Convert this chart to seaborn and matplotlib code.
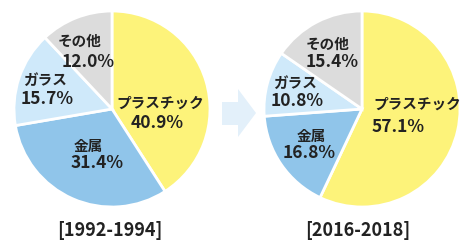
import matplotlib.pyplot as plt
import seaborn as sns
from matplotlib.patches import Polygon

# データ
categories = ['プラスチック', '金属', 'ガラス', 'その他']
share_1992 = [40.9, 31.4, 15.7, 12.0]
share_2016 = [57.1, 16.8, 10.8, 15.4]
period_labels = ['[1992-1994]', '[2016-2018]']

colors = ['#FDF37A', '#90C5EA', '#CFE9FA', '#DCDCDC']

# ラベル位置（半径=1 の座標）
name_pos_1992 = [(0.49, 0.06), (-0.245, -0.38), (-0.68, 0.30), (-0.33, 0.70)]
pct_pos_1992 = [(0.46, -0.14), (-0.15, -0.55), (-0.66, 0.10), (-0.245, 0.48)]
name_pos_2016 = [(0.56, 0.05), (-0.52, -0.28), (-0.68, 0.27), (-0.35, 0.67)]
pct_pos_2016 = [(0.37, -0.18), (-0.54, -0.45), (-0.66, 0.08), (-0.30, 0.48)]

sns.set_theme(style='white')
plt.rcParams['font.family'] = ['Noto Sans CJK JP', 'DejaVu Sans']

W, H = 474, 250
fig = plt.figure(figsize=(W / 100, H / 100), dpi=100)
fig.patch.set_facecolor('white')

# 矢印（背景）
bg = fig.add_axes([0, 0, 1, 1])
bg.set_xlim(0, W)
bg.set_ylim(H, 0)
bg.axis('off')
arrow = [(222, 102), (238, 102), (238, 89), (256, 113), (238, 137), (238, 125), (222, 125)]
bg.add_patch(Polygon(arrow, closed=True, facecolor='#E3F0FA', edgecolor='none'))


def draw_pie(cx, cy, r, values, name_pos, pct_pos, period, label_x):
    ax = fig.add_axes([(cx - r) / W, (H - cy - r) / H, 2 * r / W, 2 * r / H])
    ax.pie(values, colors=colors, startangle=90, counterclock=False,
           wedgeprops=dict(edgecolor='white', linewidth=2))
    ax.set_xlim(-1, 1)
    ax.set_ylim(-1, 1)
    ax.set_aspect('equal')
    for name, v, (nx, ny), (px, py) in zip(categories, values, name_pos, pct_pos):
        ax.text(nx, ny, name, ha='center', va='center', fontsize=10.5,
                fontweight='bold', color='#222222')
        ax.text(px, py, f'{v:.1f}%', ha='center', va='center', fontsize=12.5,
                fontweight='bold', color='#222222')
    bg.text(label_x, 230, period, ha='center', va='center', fontsize=13,
            color='#222222', fontweight='bold')


draw_pie(112, 109, 98, share_1992, name_pos_1992, pct_pos_1992, period_labels[0], 110)
draw_pie(362, 109, 98, share_2016, name_pos_2016, pct_pos_2016, period_labels[1], 358)

fig.savefig('out.png', dpi=100)
